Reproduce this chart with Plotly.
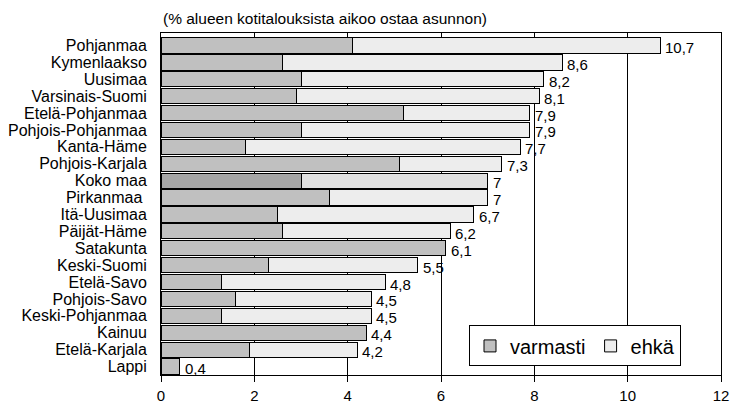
import plotly.graph_objects as go

# Regions, share of households certainly / possibly planning to buy a home (%)
regions = ["Pohjanmaa", "Kymenlaakso", "Uusimaa", "Varsinais-Suomi", "Etelä-Pohjanmaa",
           "Pohjois-Pohjanmaa", "Kanta-Häme", "Pohjois-Karjala", "Koko maa", "Pirkanmaa",
           "Itä-Uusimaa", "Päijät-Häme", "Satakunta", "Keski-Suomi", "Etelä-Savo",
           "Pohjois-Savo", "Keski-Pohjanmaa", "Kainuu", "Etelä-Karjala", "Lappi"]
region_labels = [r + "\u00a0" if r == "Pirkanmaa" else r for r in regions]
varmasti = [4.1, 2.6, 3.0, 2.9, 5.2, 3.0, 1.8, 5.1, 3.0, 3.6,
            2.5, 2.6, 6.1, 2.3, 1.3, 1.6, 1.3, 4.4, 1.9, 0.4]
totals = [10.7, 8.6, 8.2, 8.1, 7.9, 7.9, 7.7, 7.3, 7.0, 7.0,
          6.7, 6.2, 6.1, 5.5, 4.8, 4.5, 4.5, 4.4, 4.2, 0.4]
ehka = [round(t - v, 2) for t, v in zip(totals, varmasti)]
x_ticks = [0, 2, 4, 6, 8, 10, 12]

FONT = "Liberation Sans, Arial, sans-serif"

# whole-country row is highlighted with darker shades
c_var = ["#a6a6a6" if r == "Koko maa" else "#c0c0c0" for r in regions]
c_ehk = ["#e0e0e0" if r == "Koko maa" else "#ededed" for r in regions]

fig = go.Figure()
fig.add_trace(go.Bar(y=regions, x=varmasti, orientation="h", name="varmasti",
                     marker=dict(color=c_var, line=dict(color="#000000", width=1))))
fig.add_trace(go.Bar(y=regions, x=ehka, orientation="h", name="ehkä",
                     marker=dict(color=c_ehk, line=dict(color="#000000", width=1))))

for r, t in zip(regions, totals):
    fig.add_annotation(x=t, y=r, text=f"{t:g}".replace(".", ","), showarrow=False,
                       xanchor="left", yanchor="middle", xshift=3, yshift=-2,
                       font=dict(family=FONT, size=15, color="#000000"))

fig.add_annotation(x=0, y=1, xref="paper", yref="paper", xanchor="left", yanchor="bottom",
                   xshift=0, yshift=4, showarrow=False,
                   text="(% alueen kotitalouksista aikoo ostaa asunnon)",
                   font=dict(family=FONT, size=15.5, color="#000000"))

fig.update_layout(
    width=730, height=407,
    margin=dict(l=161, r=9, t=33, b=32),
    barmode="stack", bargap=0.1,
    plot_bgcolor="#ffffff", paper_bgcolor="#ffffff",
    font=dict(family=FONT, size=15, color="#000000"),
    legend=dict(orientation="h", x=0.55, y=0.145, xanchor="left", yanchor="top",
                bgcolor="#ffffff", bordercolor="#000000", borderwidth=1,
                font=dict(family=FONT, size=20, color="#000000"),
                traceorder="normal"),
    showlegend=True,
)
fig.update_xaxes(range=[0, 12], tickvals=x_ticks, ticktext=[str(v) for v in x_ticks],
                 showgrid=True, gridcolor="#000000", gridwidth=1,
                 showline=True, linecolor="#000000", linewidth=1, mirror=True,
                 ticks="outside", ticklen=6, tickcolor="#000000", ticklabelstandoff=1,
                 tickfont=dict(family=FONT, size=15), zeroline=False, fixedrange=True,
                 automargin=False)
fig.update_yaxes(autorange="reversed", showline=True, linecolor="#000000", linewidth=1,
                 mirror=True, ticks="", ticklabelstandoff=10,
                 tickmode="array", tickvals=regions, ticktext=region_labels,
                 tickfont=dict(family=FONT, size=16), fixedrange=True, automargin=False)

fig.write_html("out.html")
